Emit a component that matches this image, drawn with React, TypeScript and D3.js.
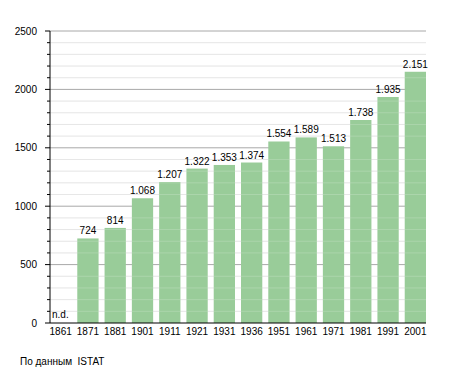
import React from 'react';
import * as d3 from 'd3';

// Population by census year (n.d. = no data)
const years = ['1861', '1871', '1881', '1901', '1911', '1921', '1931', '1936', '1951', '1961', '1971', '1981', '1991', '2001'];
const population: (number | null)[] = [null, 724, 814, 1068, 1207, 1322, 1353, 1374, 1554, 1589, 1513, 1738, 1935, 2151];
const majorTicks = [0, 500, 1000, 1500, 2000, 2500];
const sourceNote = 'По данным  ISTAT';

const width = 455;
const height = 373;
const margin = { top: 31, right: 29, bottom: 50, left: 50 };
const font = '"Liberation Sans", Arial, sans-serif';

const fmt = (v: number) => d3.format(',')(v).replace(/,/g, '.');

export default function App() {
  const x = d3.scaleBand<string>()
    .domain(years)
    .range([margin.left, width - margin.right])
    .paddingInner(0.22)
    .paddingOuter(0)
    .align(0);

  const y = d3.scaleLinear()
    .domain([0, 2500])
    .range([height - margin.bottom, margin.top]);

  const minorTicks = d3.range(0, 2501, 100).filter(v => v % 500 !== 0);
  const x0 = margin.left;
  const x1 = width - margin.right;

  return (
    <svg width={width} height={height} style={{ position: 'absolute', left: 0, top: 0, background: '#fff' }}
      fontFamily={font} fontSize={10}>
      {/* grid */}
      {minorTicks.map(t => (
        <line key={'m' + t} x1={x0} x2={x1} y1={y(t)} y2={y(t)} stroke="#e2e2e2" strokeWidth={1} />
      ))}
      {majorTicks.filter(t => t > 0).map(t => (
        <line key={'M' + t} x1={x0} x2={x1} y1={y(t)} y2={y(t)} stroke="#a8a8a8" strokeWidth={1} />
      ))}

      {/* bars */}
      {years.map((yr, i) => {
        const v = population[i];
        if (v == null) return null;
        return (
          <rect key={yr} x={x(yr)!} y={y(v)} width={x.bandwidth()} height={y(0) - y(v)} fill="#99cc99" />
        );
      })}

      {/* faint minor grid over bars */}
      {minorTicks.map(t => (
        <line key={'o' + t} x1={x0} x2={x1} y1={y(t)} y2={y(t)} stroke="#ffffff" strokeOpacity={0.18} strokeWidth={1} />
      ))}

      {/* value labels */}
      {years.map((yr, i) => {
        const v = population[i];
        if (v == null) {
          return (
            <text key={'l' + yr} x={x(yr)! + 2} y={y(0) - 5} fill="#000">n.d.</text>
          );
        }
        return (
          <text key={'l' + yr} x={x(yr)! + x.bandwidth() / 2} y={y(v) - 4} textAnchor="middle" fill="#000">
            {fmt(v)}
          </text>
        );
      })}

      {/* axes */}
      <line x1={x0} x2={x0} y1={y(2500)} y2={y(0)} stroke="#000" strokeWidth={1} />
      <line x1={x0} x2={x1} y1={y(0)} y2={y(0)} stroke="#000" strokeWidth={1} />
      {minorTicks.map(t => (
        <line key={'mt' + t} x1={x0 - 3} x2={x0} y1={y(t)} y2={y(t)} stroke="#000" strokeWidth={1} />
      ))}
      {majorTicks.map(t => (
        <g key={'Mt' + t}>
          <line x1={x0 - 5} x2={x0} y1={y(t)} y2={y(t)} stroke="#000" strokeWidth={1} />
          <text x={37} y={y(t)} dy="0.35em" textAnchor="end" fill="#000">{t}</text>
        </g>
      ))}
      {years.map(yr => (
        <text key={'x' + yr} x={x(yr)! + x.bandwidth() / 2} y={y(0) + 12} textAnchor="middle" fill="#000">{yr}</text>
      ))}

      <text x={20} y={365} fill="#000" style={{ whiteSpace: 'pre' }}>{sourceNote}</text>
    </svg>
  );
}
